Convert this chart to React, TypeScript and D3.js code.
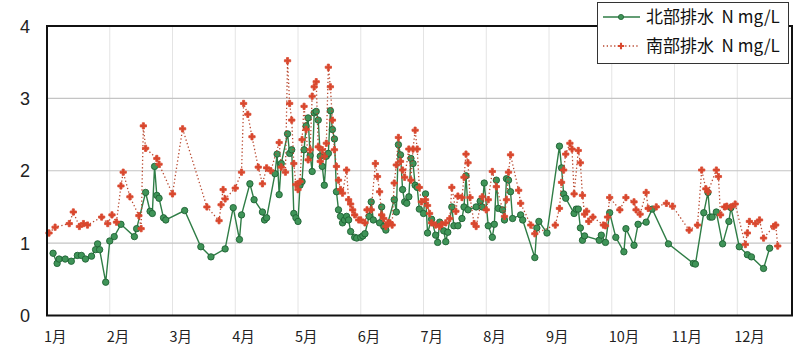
import * as d3 from "d3";
import React, { useRef, useEffect } from "react";

// 北部排水 (north drain) total N, mg/L — [month/day, value]
const north: [string, number][] = [
  ["1/4", 0.86], ["1/6", 0.72], ["1/7", 0.78], ["1/10", 0.78], ["1/13", 0.75], ["1/16", 0.83], ["1/18", 0.83],
  ["1/20", 0.78], ["1/23", 0.82], ["1/25", 0.91], ["1/26", 0.99], ["1/27", 0.91], ["1/30", 0.46],
  ["2/1", 1.03], ["2/3", 1.09], ["2/6", 1.26], ["2/12", 1.09], ["2/13", 1.2], ["2/17", 1.7], ["2/19", 1.44],
  ["2/20", 1.41], ["2/21", 2.06], ["2/22", 1.66], ["2/23", 1.62], ["2/25", 1.35], ["2/26", 1.32],
  ["3/7", 1.45], ["3/15", 0.95], ["3/20", 0.81], ["3/27", 0.92], ["3/31", 1.49],
  ["4/3", 1.05], ["4/4", 1.39], ["4/8", 1.82], ["4/10", 1.6], ["4/14", 1.43], ["4/15", 1.32], ["4/16", 1.35],
  ["4/20", 1.96], ["4/21", 2.23], ["4/22", 1.67], ["4/23", 2.1], ["4/26", 2.51], ["4/27", 2.24], ["4/28", 2.29],
  ["4/29", 1.41], ["4/30", 1.35],
  ["5/1", 1.3], ["5/2", 1.8], ["5/3", 1.85], ["5/4", 2.29], ["5/5", 2.62], ["5/6", 2.73], ["5/7", 2.21],
  ["5/8", 1.99], ["5/9", 2.8], ["5/10", 2.82], ["5/11", 2.7], ["5/12", 2.2], ["5/13", 2.06], ["5/14", 1.8],
  ["5/15", 2.2], ["5/16", 2.24], ["5/17", 2.83], ["5/18", 2.57], ["5/19", 2.44], ["5/20", 1.71], ["5/21", 1.46],
  ["5/22", 1.37], ["5/23", 1.28], ["5/24", 1.32], ["5/25", 1.37], ["5/26", 1.32], ["5/27", 1.16], ["5/29", 1.08],
  ["5/30", 1.07],
  ["6/1", 1.08], ["6/2", 1.1], ["6/3", 1.13], ["6/5", 1.37], ["6/6", 1.57], ["6/7", 1.32], ["6/10", 1.28],
  ["6/11", 1.5], ["6/12", 1.23], ["6/13", 1.18], ["6/17", 1.6], ["6/18", 1.43], ["6/19", 2.36], ["6/20", 2.22],
  ["6/21", 1.74], ["6/22", 1.57], ["6/23", 1.55], ["6/24", 1.64], ["6/25", 2.17], ["6/26", 2.1], ["6/27", 1.8],
  ["6/28", 1.77], ["6/29", 1.47],
  ["7/1", 1.41], ["7/2", 1.68], ["7/3", 1.14], ["7/5", 1.33], ["7/7", 1.11], ["7/8", 1.01], ["7/9", 1.29],
  ["7/11", 1.17], ["7/12", 1.02], ["7/13", 1.15], ["7/15", 1.5], ["7/16", 1.24], ["7/18", 1.24], ["7/20", 1.34],
  ["7/21", 1.5], ["7/22", 1.93], ["7/23", 1.46], ["7/27", 1.5], ["7/29", 1.58], ["7/30", 1.5], ["7/31", 1.83],
  ["8/2", 1.24], ["8/4", 1.08], ["8/5", 1.26], ["8/6", 1.87], ["8/7", 1.48], ["8/9", 1.46], ["8/10", 1.32],
  ["8/11", 1.89], ["8/12", 1.87], ["8/13", 1.71], ["8/14", 1.34], ["8/18", 1.39], ["8/19", 1.32], ["8/25", 0.8],
  ["8/26", 1.21], ["8/27", 1.3], ["8/31", 1.14],
  ["9/6", 2.34], ["9/7", 2.04], ["9/8", 1.68], ["9/9", 1.62], ["9/13", 1.41], ["9/14", 1.47], ["9/15", 1.47],
  ["9/16", 1.21], ["9/17", 1.04], ["9/18", 1.1], ["9/25", 1.04], ["9/26", 1.11], ["9/28", 1.01], ["9/30", 1.42],
  ["10/3", 1.08], ["10/7", 0.88], ["10/8", 1.2], ["10/12", 0.97], ["10/14", 1.26], ["10/18", 1.29], ["10/21", 1.47],
  ["10/29", 0.99],
  ["11/10", 0.72], ["11/11", 0.71], ["11/15", 1.42], ["11/17", 1.7], ["11/18", 1.36], ["11/19", 1.36],
  ["11/21", 1.43], ["11/24", 0.99], ["11/27", 1.3], ["11/28", 1.49],
  ["12/2", 0.95], ["12/6", 0.84], ["12/8", 0.81], ["12/14", 0.65], ["12/17", 0.93],
];

// 南部排水 (south drain) total N, mg/L
const south: [string, number][] = [
  ["1/2", 1.14], ["1/5", 1.22], ["1/12", 1.27], ["1/14", 1.43], ["1/17", 1.23], ["1/19", 1.27], ["1/21", 1.25],
  ["1/28", 1.36], ["1/31", 1.27],
  ["2/2", 1.39], ["2/4", 1.29], ["2/6", 1.79], ["2/7", 1.98], ["2/10", 1.64], ["2/14", 1.38], ["2/15", 1.2],
  ["2/16", 2.62], ["2/17", 2.31], ["2/22", 2.17], ["2/23", 2.09],
  ["3/1", 1.68], ["3/6", 2.58], ["3/18", 1.5], ["3/24", 1.31], ["3/25", 1.53], ["3/26", 1.74], ["3/27", 1.61],
  ["4/1", 1.76], ["4/4", 1.98], ["4/5", 2.93], ["4/7", 2.78], ["4/9", 2.47], ["4/12", 2.05], ["4/14", 1.82],
  ["4/16", 2.04], ["4/18", 2.0], ["4/22", 2.39], ["4/23", 2.05], ["4/25", 1.98], ["4/26", 3.52], ["4/27", 2.93],
  ["4/28", 2.7], ["4/29", 2.1], ["4/30", 1.81],
  ["5/1", 1.74], ["5/2", 1.85], ["5/3", 2.43], ["5/4", 2.89], ["5/5", 2.57], ["5/6", 2.15], ["5/7", 2.29],
  ["5/8", 3.03], ["5/9", 3.16], ["5/10", 3.23], ["5/11", 2.33], ["5/12", 2.13], ["5/13", 2.29], ["5/14", 2.2],
  ["5/15", 2.38], ["5/16", 3.43], ["5/17", 3.16], ["5/18", 2.7], ["5/19", 2.29], ["5/20", 2.06], ["5/21", 1.87],
  ["5/22", 1.74], ["5/23", 1.69], ["5/25", 2.01], ["5/26", 1.6], ["5/27", 1.54], ["5/28", 1.46], ["5/29", 1.39],
  ["5/31", 1.32],
  ["6/1", 1.32], ["6/3", 1.28], ["6/4", 1.46], ["6/6", 1.46], ["6/8", 2.1], ["6/9", 1.92], ["6/10", 1.71],
  ["6/11", 1.39], ["6/12", 1.34], ["6/13", 1.23], ["6/14", 1.28], ["6/15", 1.28], ["6/16", 1.25], ["6/17", 1.83],
  ["6/18", 2.08], ["6/19", 2.46], ["6/20", 2.13], ["6/21", 2.01], ["6/22", 1.91], ["6/24", 2.3], ["6/25", 1.87],
  ["6/26", 2.3], ["6/27", 2.56], ["6/28", 2.3], ["6/29", 1.77], ["6/30", 1.57],
  ["7/2", 1.6], ["7/3", 1.52], ["7/4", 1.41], ["7/5", 1.28], ["7/7", 1.25], ["7/9", 1.23], ["7/10", 1.26],
  ["7/12", 1.28], ["7/14", 1.34], ["7/15", 1.77], ["7/17", 1.44], ["7/18", 1.65], ["7/20", 1.63], ["7/21", 1.91],
  ["7/22", 2.23], ["7/23", 2.11], ["7/24", 1.63], ["7/26", 1.27], ["7/27", 1.23], ["7/30", 1.64],
  ["8/1", 1.46], ["8/2", 1.6], ["8/4", 1.99], ["8/6", 1.78], ["8/10", 1.37], ["8/11", 1.6], ["8/12", 1.98],
  ["8/13", 2.22], ["8/17", 1.73], ["8/18", 1.55], ["8/23", 1.25], ["8/25", 1.13],
  ["9/4", 1.25], ["9/6", 1.48], ["9/7", 1.84], ["9/8", 2.01], ["9/9", 2.23], ["9/11", 2.38], ["9/12", 2.3],
  ["9/13", 1.68], ["9/15", 2.28], ["9/16", 2.11], ["9/17", 1.66], ["9/18", 1.4], ["9/19", 1.44], ["9/20", 1.3],
  ["9/22", 1.36], ["9/27", 1.25], ["9/28", 1.24], ["9/29", 1.36], ["9/30", 1.63],
  ["10/5", 1.46], ["10/8", 1.63], ["10/12", 1.57], ["10/13", 1.46], ["10/15", 1.4], ["10/18", 1.7], ["10/19", 1.48],
  ["10/23", 1.5], ["10/28", 1.55], ["10/31", 1.51],
  ["11/8", 1.18], ["11/12", 1.25], ["11/14", 2.01], ["11/16", 1.75], ["11/17", 1.71], ["11/21", 2.01],
  ["11/22", 1.92], ["11/23", 1.39], ["11/25", 1.5], ["11/26", 1.51], ["11/28", 1.5], ["11/30", 1.54],
  ["12/5", 0.98], ["12/6", 1.14], ["12/7", 1.3], ["12/10", 1.27], ["12/12", 1.32], ["12/14", 1.07], ["12/19", 1.23],
  ["12/20", 1.25], ["12/21", 0.96],
];

const months = ["1月", "2月", "3月", "4月", "5月", "6月", "7月", "8月", "9月", "10月", "11月", "12月"];
const yTicks = [0, 1, 2, 3, 4];
const seriesNames = ["北部排水\u00a0\u00a0N mg/L", "南部排水\u00a0\u00a0N mg/L"];

const W = 797;
const H = 349;
const left = 47;
const right = 792;
const top = 26;
const bottom = 315.5;

// month/day -> position in months from Jan 1
const monthPos = (s: string) => {
  const [mo, day] = s.split("/").map(Number);
  const dim = new Date(2021, mo, 0).getDate();
  return mo - 1 + (day - 1) / dim;
};

const App = () => {
  const ref = useRef<SVGSVGElement>(null);

  useEffect(() => {
    const svg = d3.select(ref.current);
    svg.selectAll("*").remove();

    const x = d3.scaleLinear().domain([0, 12]).range([left, left + 12 * 62.75]);
    const y = d3.scaleLinear().domain([0, 4]).range([bottom, top]);

    const green = "#2f7d46";
    const red = "#d9482e";

    // vertical month gridlines
    svg
      .append("g")
      .selectAll("line")
      .data(d3.range(1, 12))
      .join("line")
      .attr("x1", (d) => x(d))
      .attr("x2", (d) => x(d))
      .attr("y1", top)
      .attr("y2", bottom)
      .attr("stroke", "#e4e4e4")
      .attr("stroke-width", 1);

    // horizontal gridlines
    svg
      .append("g")
      .selectAll("line")
      .data([1, 2, 3])
      .join("line")
      .attr("x1", left)
      .attr("x2", right)
      .attr("y1", (d) => y(d))
      .attr("y2", (d) => y(d))
      .attr("stroke", "#c4c4c4")
      .attr("stroke-width", 1.2);

    // y labels
    svg
      .append("g")
      .selectAll("text")
      .data(yTicks)
      .join("text")
      .attr("x", 30)
      .attr("y", (d) => y(d) + 6.5)
      .attr("text-anchor", "end")
      .attr("font-family", "Liberation Sans, Arial, sans-serif")
      .attr("font-size", 18)
      .attr("fill", "#222")
      .text((d) => d);

    // month labels
    svg
      .append("g")
      .selectAll("text")
      .data(months)
      .join("text")
      .attr("x", (d, i) => x(i) - 3)
      .attr("y", 342)
      .attr("font-family", "Noto Sans CJK JP, sans-serif")
      .attr("font-size", 14.5)
      .attr("fill", "#222")
      .text((d) => d);

    const line = d3
      .line<[string, number]>()
      .x((d) => x(monthPos(d[0])))
      .y((d) => y(d[1]));

    // north: solid green line with circles
    svg
      .append("path")
      .datum(north)
      .attr("d", line)
      .attr("fill", "none")
      .attr("stroke", green)
      .attr("stroke-width", 1.4);
    svg
      .append("g")
      .selectAll("circle")
      .data(north)
      .join("circle")
      .attr("cx", (d) => x(monthPos(d[0])))
      .attr("cy", (d) => y(d[1]))
      .attr("r", 3.2)
      .attr("fill", "#3f9458")
      .attr("stroke", "#1f6234")
      .attr("stroke-width", 0.9);

    // south: dotted red line with crosses
    svg
      .append("path")
      .datum(south)
      .attr("d", line)
      .attr("fill", "none")
      .attr("stroke", "#b8482f")
      .attr("stroke-width", 1.3)
      .attr("stroke-dasharray", "1.3,2.4");
    const cross = d3.symbol().type(d3.symbolCross).size(22);
    svg
      .append("g")
      .selectAll("path")
      .data(south)
      .join("path")
      .attr("d", cross)
      .attr("transform", (d) => `translate(${x(monthPos(d[0]))},${y(d[1])})`)
      .attr("fill", red)
      .attr("stroke", red)
      .attr("stroke-width", 0.8)
      .attr("stroke-linejoin", "round");

    // plot frame
    svg
      .append("rect")
      .attr("x", left)
      .attr("y", top)
      .attr("width", right - left)
      .attr("height", bottom - top)
      .attr("fill", "none")
      .attr("stroke", "#111")
      .attr("stroke-width", 2);

    // legend
    const lg = svg.append("g");
    lg.append("rect")
      .attr("x", 597.5)
      .attr("y", 2.5)
      .attr("width", 191)
      .attr("height", 61)
      .attr("fill", "#fff")
      .attr("stroke", "#333")
      .attr("stroke-width", 1);
    const rows = [17, 46];
    lg.append("line")
      .attr("x1", 603).attr("x2", 640).attr("y1", rows[0]).attr("y2", rows[0])
      .attr("stroke", green).attr("stroke-width", 1.4);
    lg.append("circle")
      .attr("cx", 621).attr("cy", rows[0]).attr("r", 2.6)
      .attr("fill", "#3f9458").attr("stroke", "#1f6234").attr("stroke-width", 0.8);
    lg.append("line")
      .attr("x1", 603).attr("x2", 640).attr("y1", rows[1]).attr("y2", rows[1])
      .attr("stroke", "#b8482f").attr("stroke-width", 1.3).attr("stroke-dasharray", "1.3,2.4");
    lg.append("path")
      .attr("d", cross)
      .attr("transform", `translate(621,${rows[1]})`)
      .attr("fill", red);
    lg.selectAll("text")
      .data(seriesNames)
      .join("text")
      .attr("x", 646)
      .attr("y", (d, i) => rows[i] + 6)
      .attr("font-family", "Noto Sans CJK JP, sans-serif")
      .attr("font-size", 17)
      .attr("fill", "#111")
      .text((d) => d);
  }, []);

  return (
    <svg
      ref={ref}
      width={W}
      height={H}
      style={{ position: "absolute", left: 0, top: 0, background: "#fff" }}
    ></svg>
  );
};

export default App;
